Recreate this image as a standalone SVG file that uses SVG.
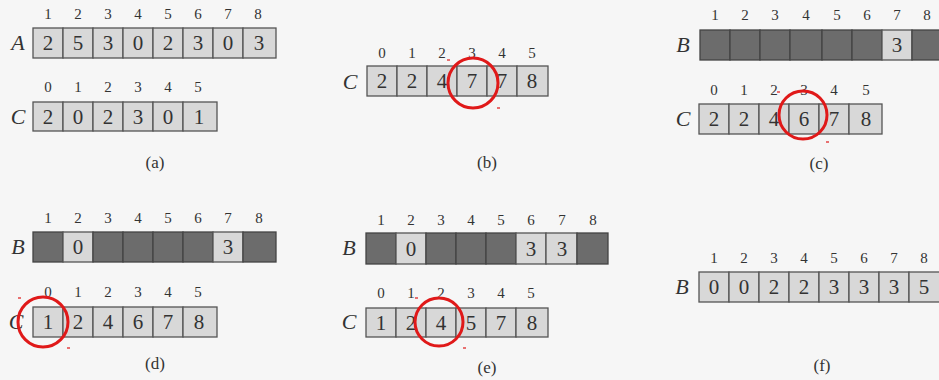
<svg xmlns="http://www.w3.org/2000/svg" width="939" height="380" viewBox="0 0 939 380">
<style>
.l{fill:#d8d8d8;stroke:#555;stroke-width:1.3}
.d{fill:#6c6c6c;stroke:#444;stroke-width:1.3}
.v{font-family:"Liberation Serif",serif;font-size:21px;fill:#333;text-anchor:middle}
.i{font-family:"Liberation Serif",serif;font-size:15px;fill:#333;text-anchor:middle}
.n{font-family:"Liberation Serif",serif;font-size:22px;font-style:italic;fill:#333;text-anchor:middle}
.p{font-family:"Liberation Serif",serif;font-size:17px;fill:#333;text-anchor:middle}
.c{fill:none;stroke:#e01919;stroke-width:3}
.m{stroke:#e01919;stroke-width:1.2}
</style>
<rect width="939" height="380" fill="#f6f6f6"/>

<g id="panel-a">
<g id="a-A">
<text class="n" x="18" y="50">A</text>
<g class="i"><text x="48" y="19">1</text><text x="78" y="19">2</text><text x="108" y="19">3</text><text x="138" y="19">4</text><text x="168" y="19">5</text><text x="198" y="19">6</text><text x="228" y="19">7</text><text x="258" y="19">8</text></g>
<rect class="l" x="33" y="28" width="30" height="30"/><rect class="l" x="63" y="28" width="30" height="30"/><rect class="l" x="93" y="28" width="30" height="30"/><rect class="l" x="123" y="28" width="30" height="30"/><rect class="l" x="153" y="28" width="30" height="30"/><rect class="l" x="183" y="28" width="30" height="30"/><rect class="l" x="213" y="28" width="30" height="30"/><rect class="l" x="243" y="28" width="33" height="30"/>
<g class="v"><text x="48" y="50">2</text><text x="78" y="50">5</text><text x="108" y="50">3</text><text x="138" y="50">0</text><text x="168" y="50">2</text><text x="198" y="50">3</text><text x="228" y="50">0</text><text x="259" y="50">3</text></g>
</g>
<g id="a-C">
<text class="n" x="18" y="124">C</text>
<g class="i"><text x="48" y="92">0</text><text x="78" y="92">1</text><text x="108" y="92">2</text><text x="138" y="92">3</text><text x="168" y="92">4</text><text x="198" y="92">5</text></g>
<rect class="l" x="33" y="102" width="30" height="29"/><rect class="l" x="63" y="102" width="30" height="29"/><rect class="l" x="93" y="102" width="30" height="29"/><rect class="l" x="123" y="102" width="30" height="29"/><rect class="l" x="153" y="102" width="30" height="29"/><rect class="l" x="183" y="102" width="34" height="29"/>
<g class="v"><text x="48" y="124">2</text><text x="78" y="124">0</text><text x="108" y="124">2</text><text x="138" y="124">3</text><text x="168" y="124">0</text><text x="199" y="124">1</text></g>
</g>
<text class="p" x="155" y="168">(a)</text>
</g>

<g id="panel-b">
<g id="b-C">
<text class="n" x="350" y="89">C</text>
<g class="i"><text x="382" y="58">0</text><text x="412" y="58">1</text><text x="442" y="58">2</text><text x="472" y="58">3</text><text x="502" y="58">4</text><text x="532" y="58">5</text></g>
<rect class="l" x="367" y="66" width="30" height="30"/><rect class="l" x="397" y="66" width="30" height="30"/><rect class="l" x="427" y="66" width="30" height="30"/><rect class="l" x="457" y="66" width="30" height="30"/><rect class="l" x="487" y="66" width="30" height="30"/><rect class="l" x="517" y="66" width="31" height="30"/>
<g class="v"><text x="382" y="88">2</text><text x="412" y="88">2</text><text x="442" y="88">4</text><text x="472" y="88">7</text><text x="502" y="88">7</text><text x="532" y="88">8</text></g>
</g>
<circle class="c" cx="473" cy="83" r="25"/>
<line class="m" x1="447" y1="60" x2="450" y2="60"/>
<line class="m" x1="497" y1="108" x2="500" y2="108"/>
<text class="p" x="487" y="168">(b)</text>
</g>

<g id="panel-c">
<g id="c-B">
<text class="n" x="683" y="52">B</text>
<g class="i"><text x="715" y="20">1</text><text x="745" y="20">2</text><text x="775" y="20">3</text><text x="806" y="20">4</text><text x="837" y="20">5</text><text x="867" y="20">6</text><text x="897" y="20">7</text><text x="927" y="20">8</text></g>
<rect class="d" x="700" y="30" width="30" height="30"/><rect class="d" x="730" y="30" width="30" height="30"/><rect class="d" x="760" y="30" width="30" height="30"/><rect class="d" x="790" y="30" width="32" height="30"/><rect class="d" x="822" y="30" width="30" height="30"/><rect class="d" x="852" y="30" width="30" height="30"/><rect class="l" x="882" y="30" width="30" height="30"/><rect class="d" x="912" y="30" width="32" height="30"/>
<text class="v" x="897" y="52">3</text>
</g>
<g id="c-C">
<text class="n" x="683" y="126">C</text>
<g class="i"><text x="714" y="95">0</text><text x="744" y="95">1</text><text x="774" y="95">2</text><text x="804" y="95">3</text><text x="834" y="95">4</text><text x="866" y="95">5</text></g>
<rect class="l" x="699" y="104" width="30" height="30"/><rect class="l" x="729" y="104" width="30" height="30"/><rect class="l" x="759" y="104" width="30" height="30"/><rect class="l" x="789" y="104" width="30" height="30"/><rect class="l" x="819" y="104" width="30" height="30"/><rect class="l" x="849" y="104" width="33" height="30"/>
<g class="v"><text x="714" y="126">2</text><text x="744" y="126">2</text><text x="774" y="126">4</text><text x="804" y="126">6</text><text x="834" y="126">7</text><text x="866" y="126">8</text></g>
</g>
<circle class="c" cx="803" cy="115" r="24"/>
<line class="m" x1="777" y1="92" x2="780" y2="92"/>
<line class="m" x1="826" y1="142" x2="829" y2="142"/>
<text class="p" x="819" y="169">(c)</text>
</g>

<g id="panel-d">
<g id="d-B">
<text class="n" x="18" y="254">B</text>
<g class="i"><text x="48" y="223">1</text><text x="78" y="223">2</text><text x="108" y="223">3</text><text x="138" y="223">4</text><text x="168" y="223">5</text><text x="198" y="223">6</text><text x="228" y="223">7</text><text x="259" y="223">8</text></g>
<rect class="d" x="33" y="232" width="30" height="30"/><rect class="l" x="63" y="232" width="30" height="30"/><rect class="d" x="93" y="232" width="30" height="30"/><rect class="d" x="123" y="232" width="30" height="30"/><rect class="d" x="153" y="232" width="30" height="30"/><rect class="d" x="183" y="232" width="30" height="30"/><rect class="l" x="213" y="232" width="30" height="30"/><rect class="d" x="243" y="232" width="33" height="30"/>
<text class="v" x="78" y="254">0</text><text class="v" x="228" y="254">3</text>
</g>
<g id="d-C">
<text class="n" x="16" y="329">C</text>
<g class="i"><text x="48" y="297">0</text><text x="78" y="297">1</text><text x="108" y="297">2</text><text x="138" y="297">3</text><text x="168" y="297">4</text><text x="198" y="297">5</text></g>
<rect class="l" x="33" y="307" width="30" height="30"/><rect class="l" x="63" y="307" width="30" height="30"/><rect class="l" x="93" y="307" width="30" height="30"/><rect class="l" x="123" y="307" width="30" height="30"/><rect class="l" x="153" y="307" width="30" height="30"/><rect class="l" x="183" y="307" width="34" height="30"/>
<g class="v"><text x="48" y="329">1</text><text x="78" y="329">2</text><text x="108" y="329">4</text><text x="138" y="329">6</text><text x="168" y="329">7</text><text x="199" y="329">8</text></g>
</g>
<circle class="c" cx="43" cy="322" r="25"/>
<line class="m" x1="18" y1="298" x2="21" y2="298"/>
<line class="m" x1="67" y1="348" x2="70" y2="348"/>
<text class="p" x="155" y="369">(d)</text>
</g>

<g id="panel-e">
<g id="e-B">
<text class="n" x="349" y="255">B</text>
<g class="i"><text x="381" y="225">1</text><text x="411" y="225">2</text><text x="441" y="225">3</text><text x="471" y="225">4</text><text x="501" y="225">5</text><text x="531" y="225">6</text><text x="562" y="225">7</text><text x="593" y="225">8</text></g>
<rect class="d" x="366" y="233" width="30" height="31"/><rect class="l" x="396" y="233" width="30" height="31"/><rect class="d" x="426" y="233" width="30" height="31"/><rect class="d" x="456" y="233" width="30" height="31"/><rect class="d" x="486" y="233" width="30" height="31"/><rect class="l" x="516" y="233" width="30" height="31"/><rect class="l" x="546" y="233" width="31" height="31"/><rect class="d" x="577" y="233" width="31" height="31"/>
<text class="v" x="411" y="256">0</text><text class="v" x="531" y="256">3</text><text class="v" x="562" y="256">3</text>
</g>
<g id="e-C">
<text class="n" x="349" y="329">C</text>
<g class="i"><text x="381" y="298">0</text><text x="411" y="298">1</text><text x="441" y="298">2</text><text x="471" y="298">3</text><text x="501" y="298">4</text><text x="531" y="298">5</text></g>
<rect class="l" x="366" y="308" width="30" height="29"/><rect class="l" x="396" y="308" width="30" height="29"/><rect class="l" x="426" y="308" width="30" height="29"/><rect class="l" x="456" y="308" width="30" height="29"/><rect class="l" x="486" y="308" width="30" height="29"/><rect class="l" x="516" y="308" width="32" height="29"/>
<g class="v"><text x="381" y="330">1</text><text x="411" y="330">2</text><text x="441" y="330">4</text><text x="471" y="330">5</text><text x="501" y="330">7</text><text x="532" y="330">8</text></g>
</g>
<circle class="c" cx="439" cy="322" r="24"/>
<line class="m" x1="415" y1="298" x2="418" y2="298"/>
<line class="m" x1="463" y1="348" x2="466" y2="348"/>
<text class="p" x="487" y="373">(e)</text>
</g>

<g id="panel-f">
<g id="f-B">
<text class="n" x="682" y="294">B</text>
<g class="i"><text x="714" y="263">1</text><text x="744" y="263">2</text><text x="774" y="263">3</text><text x="804" y="263">4</text><text x="834" y="263">5</text><text x="864" y="263">6</text><text x="894" y="263">7</text><text x="924" y="263">8</text></g>
<rect class="l" x="699" y="272" width="30" height="30"/><rect class="l" x="729" y="272" width="30" height="30"/><rect class="l" x="759" y="272" width="30" height="30"/><rect class="l" x="789" y="272" width="30" height="30"/><rect class="l" x="819" y="272" width="30" height="30"/><rect class="l" x="849" y="272" width="30" height="30"/><rect class="l" x="879" y="272" width="30" height="30"/><rect class="l" x="909" y="272" width="34" height="30"/>
<g class="v"><text x="714" y="294">0</text><text x="744" y="294">0</text><text x="774" y="294">2</text><text x="804" y="294">2</text><text x="834" y="294">3</text><text x="864" y="294">3</text><text x="894" y="294">3</text><text x="924" y="294">5</text></g>
</g>
<text class="p" x="822" y="371">(f)</text>
</g>
</svg>
